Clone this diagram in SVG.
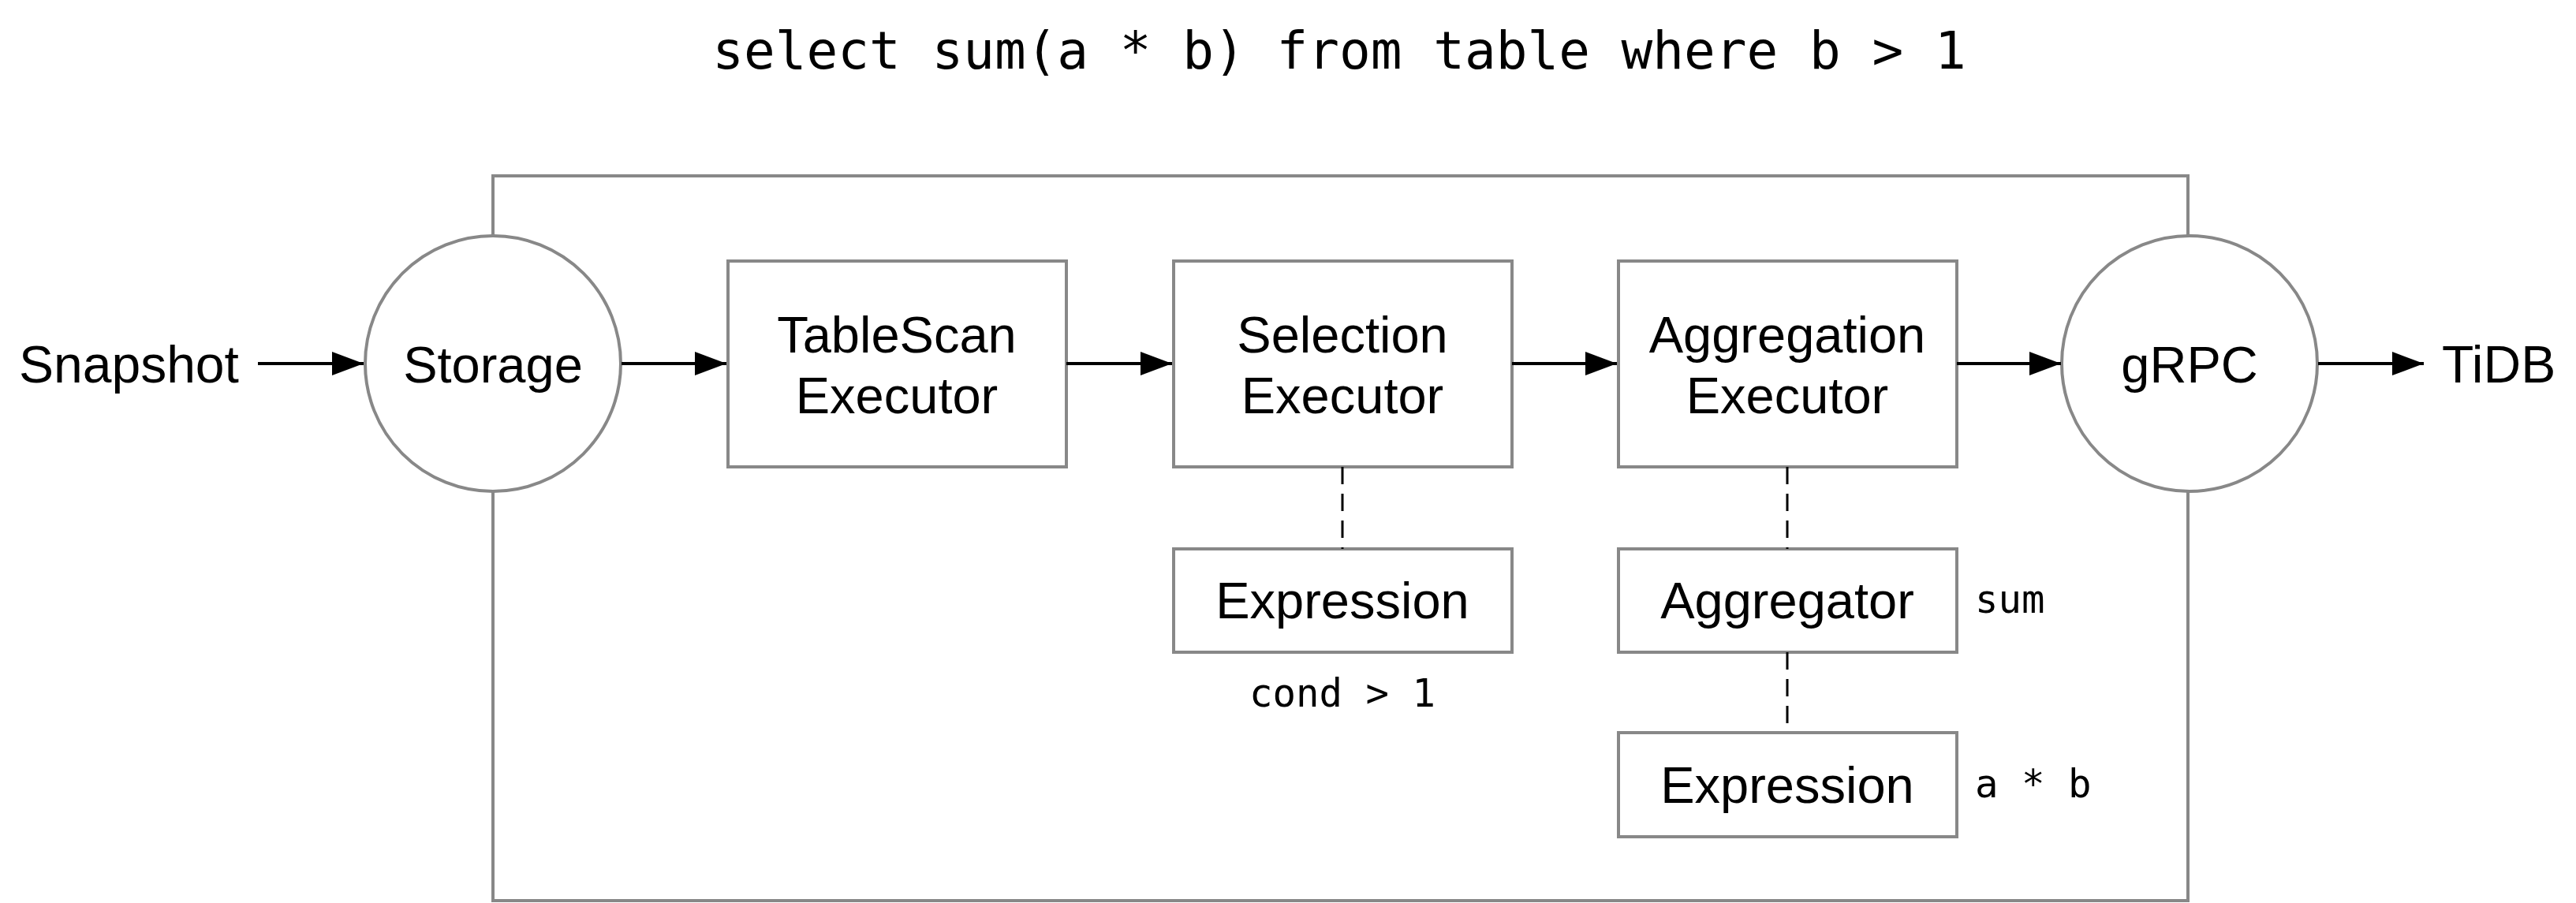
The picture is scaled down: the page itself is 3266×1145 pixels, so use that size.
<svg xmlns="http://www.w3.org/2000/svg" width="3266" height="1145" viewBox="0 0 3266 1145">
<style>
.box{fill:#fff;stroke:#888;stroke-width:4}
.frame{fill:none;stroke:#888;stroke-width:4}
.lbl{font-family:"Liberation Sans",Arial,sans-serif;font-size:65px;fill:#000;text-anchor:middle}
.ext{font-family:"Liberation Sans",Arial,sans-serif;font-size:66px;fill:#000}
.mono{font-family:"DejaVu Sans Mono","Liberation Mono",monospace;fill:#000}
.arr{stroke:#000;stroke-width:4;fill:none;marker-end:url(#ah)}
.dash{stroke:#000;stroke-width:3;fill:none;stroke-dasharray:22 12}
</style>
<defs>
<marker id="ah" markerUnits="userSpaceOnUse" markerWidth="40" markerHeight="30" refX="40" refY="15" orient="auto">
<path d="M0,0 L40,15 L0,30 Z" fill="#000"/>
</marker>
</defs>
<rect width="3266" height="1145" fill="#fff"/>
<text class="mono" x="1698" y="87" font-size="66" text-anchor="middle">select sum(a * b) from table where b &gt; 1</text>
<g id="frame"><rect class="frame" x="625" y="223" width="2149" height="919"/></g>
<g id="snapshot"><text class="ext" x="24" y="485">Snapshot</text></g>
<g id="tidb"><text class="ext" x="3096" y="485">TiDB</text></g>
<g id="storage"><circle class="box" cx="625" cy="461" r="162"/><text class="lbl" x="625" y="485">Storage</text></g>
<g id="tablescan"><rect class="box" x="923" y="331" width="429" height="261"/><text class="lbl" x="1137" y="447">TableScan</text><text class="lbl" x="1137" y="524">Executor</text></g>
<g id="selection"><rect class="box" x="1488" y="331" width="429" height="261"/><text class="lbl" x="1702" y="447">Selection</text><text class="lbl" x="1702" y="524">Executor</text></g>
<g id="aggregation"><rect class="box" x="2052" y="331" width="429" height="261"/><text class="lbl" x="2266" y="447">Aggregation</text><text class="lbl" x="2266" y="524">Executor</text></g>
<g id="grpc"><circle class="box" cx="2776" cy="461" r="162"/><text class="lbl" x="2776" y="485">gRPC</text></g>
<g id="expression1"><rect class="box" x="1488" y="696" width="429" height="131"/><text class="lbl" x="1702" y="784">Expression</text></g>
<g id="aggregator"><rect class="box" x="2052" y="696" width="429" height="131"/><text class="lbl" x="2266" y="784">Aggregator</text></g>
<g id="expression2"><rect class="box" x="2052" y="929" width="429" height="132"/><text class="lbl" x="2266" y="1018">Expression</text></g>
<g id="annotations">
<text class="mono" x="1702" y="896" font-size="49" text-anchor="middle">cond &gt; 1</text>
<text class="mono" x="2504" y="777" font-size="49">sum</text>
<text class="mono" x="2504" y="1011" font-size="49">a * b</text>
</g>
<g id="connectors">
<line class="arr" x1="327" y1="461" x2="461" y2="461"/>
<line class="arr" x1="788" y1="461" x2="921" y2="461"/>
<line class="arr" x1="1352" y1="461" x2="1486" y2="461"/>
<line class="arr" x1="1917" y1="461" x2="2050" y2="461"/>
<line class="arr" x1="2481" y1="461" x2="2613" y2="461"/>
<line class="arr" x1="2939" y1="461" x2="3073" y2="461"/>
<line class="dash" x1="1702" y1="592" x2="1702" y2="696"/>
<line class="dash" x1="2266" y1="592" x2="2266" y2="696"/>
<line class="dash" x1="2266" y1="827" x2="2266" y2="929"/>
</g>
</svg>
